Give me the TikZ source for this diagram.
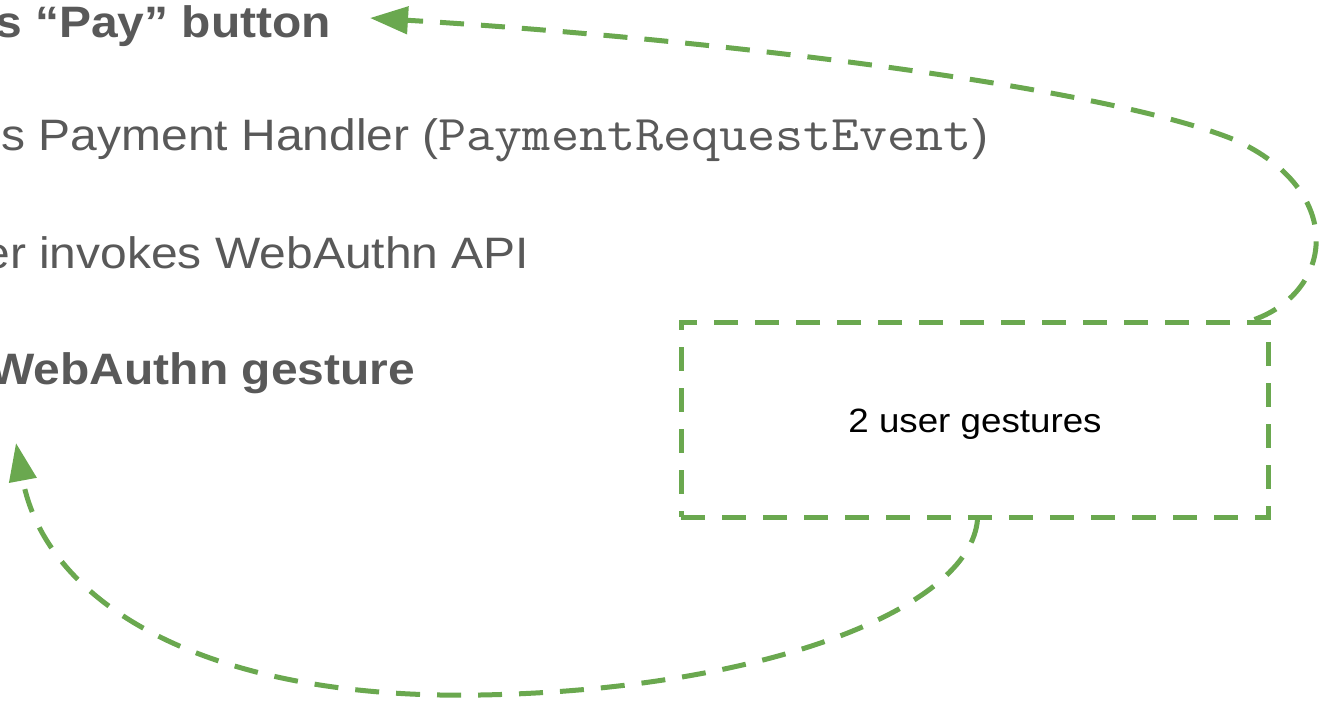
\documentclass[tikz,border=0pt]{standalone}
\usepackage{graphicx}
\usepackage{fontspec}
\setmainfont{Liberation Sans}
\usetikzlibrary{arrows.meta}
\definecolor{txt}{HTML}{595959}
\definecolor{grn}{HTML}{6AA84F}
\newcommand\hs[1]{\scalebox{1.09}[1]{#1}}
\newcommand\cw[1]{{\fontsize{50}{52}\selectfont\ttfamily #1}}
\begin{document}
\begin{tikzpicture}[x=1pt,y=-1pt,
  line/.style={text=txt, inner sep=0pt, outer sep=0pt, font=\fontsize{44}{52}\selectfont},
  gest/.style={draw=grn, line width=5pt, dash pattern=on 24pt off 17pt},
  conn/.style={gest, -{Triangle[length=38pt 0 0,width=27pt 0 0]}}]
\useasboundingbox (0,0) rectangle (1330,702);
\clip (0,0) rectangle (1330,702);
\node[line, anchor=base east] (l1) at (331,37) {\hs{\bfseries s “Pay” button}};
\node[line, anchor=base east] (l2) at (988,150) {\hs{s Payment Handler (\cw{PaymentRequestEvent})}};
\node[line, anchor=base east] (l3) at (529,268) {\hs{er invokes WebAuthn API}};
\node[line, anchor=base east] (l4) at (415,384) {\hs{\bfseries WebAuthn gesture}};
\node[gest, inner sep=0pt, minimum width=587pt, minimum height=195pt] (box) at (974.5,419.5) {};
\node[inner sep=0pt, anchor=base, font=\fontsize{33.7}{40}\selectfont] (lab) at (975,432) {\hs{2 user gestures}};
\coordinate (tip1) at (370,18);
\coordinate (tip2) at (16,443);
\draw[conn] ([xshift=-16pt]box.north east) .. controls (1335,290) and (1345,190) .. (1235,140)
  .. controls (1100,85) and (700,38) .. (tip1);
\draw[conn] ([xshift=3pt]box.south) .. controls (970,610) and (760,690) .. (480,695)
  .. controls (200,700) and (45,600) .. (tip2);
\end{tikzpicture}
\end{document}
